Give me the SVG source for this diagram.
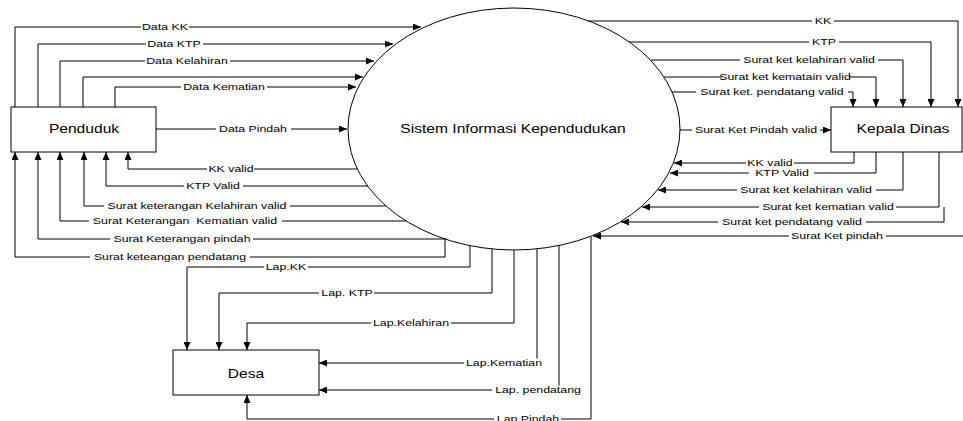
<svg xmlns="http://www.w3.org/2000/svg" width="963" height="421" viewBox="0 0 963 421">
  <style>
    .node{fill:#fff;stroke:#000;stroke-width:1}
    .flow{fill:none;stroke:#000;stroke-width:1;marker-end:url(#arrow)}
    .plain{fill:none;stroke:#000;stroke-width:1}
    .bg{fill:#fff}
    text{font-family:"Liberation Sans",Arial,sans-serif;fill:#000;text-anchor:middle;transform-box:fill-box;transform-origin:center;transform:scaleX(1.3)}
    .title{font-size:12px}
    .lbl{font-size:9.5px}
  </style>
  <defs>
    <marker id="arrow" viewBox="0 0 8 7" refX="8" refY="3.5" markerWidth="8" markerHeight="7" markerUnits="userSpaceOnUse" orient="auto">
      <path d="M0,0 L8,3.5 L0,7 z" fill="#000"/>
    </marker>
  </defs>

  <!-- External entities and the process -->
  <g id="penduduk">
    <rect class="node" x="11" y="107" width="145" height="45"/>
    <text class="title" x="84" y="133">Penduduk</text>
  </g>
  <g id="sistem-informasi-kependudukan">
    <ellipse class="node" cx="514" cy="129" rx="166" ry="121"/>
    <text class="title" x="513" y="133">Sistem Informasi Kependudukan</text>
  </g>
  <g id="kepala-dinas">
    <rect class="node" x="831" y="107" width="131" height="45"/>
    <text class="title" x="903" y="133">Kepala Dinas</text>
  </g>
  <g id="desa">
    <rect class="node" x="173" y="350" width="146" height="45"/>
    <text class="title" x="246" y="378">Desa</text>
  </g>

  <!-- Data flows -->
  <g id="connectors">
    <!-- Penduduk -> Sistem -->
    <path class="flow" d="M15,107 V27 H421"/>
    <path class="flow" d="M38,107 V44 H393"/>
    <path class="flow" d="M60,107 V61 H374"/>
    <path class="flow" d="M83,107 V77 H363"/>
    <path class="flow" d="M115,107 V87 H356"/>
    <path class="flow" d="M156,129 H347"/>
    <!-- Sistem -> Penduduk -->
    <path class="flow" d="M357,169 H128 V152"/>
    <path class="flow" d="M368,186 H106 V152"/>
    <path class="flow" d="M386,206 H84 V152"/>
    <path class="flow" d="M406,221 H60 V152"/>
    <path class="flow" d="M446,239 H38 V152"/>
    <path class="flow" d="M445,239 V257 H15 V152"/>
    <!-- Sistem -> Desa -->
    <path class="flow" d="M470,246 V267 H187 V350"/>
    <path class="flow" d="M492,249 V293 H219 V350"/>
    <path class="flow" d="M514,250 V323 H247 V350"/>
    <path class="flow" d="M537,249 V363 H319"/>
    <path class="flow" d="M559,245 V390 H319"/>
    <path class="flow" d="M591,237 V419 H247 V395"/>
    <!-- Sistem -> Kepala Dinas -->
    <path class="flow" d="M588,21 H958 V107"/>
    <path class="flow" d="M629,42 H931 V107"/>
    <path class="flow" d="M651,60 H903 V107"/>
    <path class="flow" d="M664,77 H876 V107"/>
    <path class="flow" d="M672,92 H853 V107"/>
    <path class="flow" d="M680,130 H831"/>
    <!-- Kepala Dinas -> Sistem -->
    <path class="flow" d="M854,152 V163 H674"/>
    <path class="flow" d="M876,152 V173 H670"/>
    <path class="flow" d="M903,152 V190 H658"/>
    <path class="flow" d="M939,152 V207 H642"/>
    <path class="flow" d="M944,207 V222 H621"/>
    <path class="flow" d="M963,236 H593"/>
  </g>

  <!-- Flow labels, each on a white patch over its line -->
  <g id="flow-labels">
    <rect class="bg" x="141" y="22.5" width="48" height="9"/><text class="lbl" x="165" y="30.4">Data KK</text>
    <rect class="bg" x="146" y="39.5" width="57" height="9"/><text class="lbl" x="174" y="47.4">Data KTP</text>
    <rect class="bg" x="145" y="56.5" width="85" height="9"/><text class="lbl" x="187" y="64.4">Data Kelahiran</text>
    <rect class="bg" x="181" y="82.5" width="86" height="9"/><text class="lbl" x="224" y="90.4">Data Kematian</text>
    <rect class="bg" x="216" y="124.5" width="75" height="9"/><text class="lbl" x="253" y="132.4">Data Pindah</text>

    <rect class="bg" x="207" y="164.5" width="47" height="9"/><text class="lbl" x="231" y="172.4">KK valid</text>
    <rect class="bg" x="184" y="181.5" width="59" height="9"/><text class="lbl" x="213" y="189.4">KTP Valid</text>
    <rect class="bg" x="104" y="201.5" width="186" height="9"/><text class="lbl" x="197" y="209.4">Surat keterangan Kelahiran valid</text>
    <rect class="bg" x="89" y="216.5" width="193" height="9"/><text class="lbl" x="185" y="224.4" xml:space="preserve">Surat Keterangan  Kematian valid</text>
    <rect class="bg" x="110" y="234.5" width="143" height="9"/><text class="lbl" x="182" y="242.4">Surat Keterangan pindah</text>
    <rect class="bg" x="90" y="252.5" width="160" height="9"/><text class="lbl" x="170" y="260.4">Surat keteangan pendatang</text>

    <rect class="bg" x="264" y="262.5" width="44" height="9"/><text class="lbl" x="286" y="270.4">Lap.KK</text>
    <rect class="bg" x="319" y="288.5" width="55" height="9"/><text class="lbl" x="347" y="296.4">Lap. KTP</text>
    <rect class="bg" x="371" y="318.5" width="80" height="9"/><text class="lbl" x="411" y="326.4">Lap.Kelahiran</text>
    <rect class="bg" x="464" y="358.5" width="80" height="9"/><text class="lbl" x="504" y="366.4">Lap.Kematian</text>
    <rect class="bg" x="492" y="385.5" width="91" height="9"/><text class="lbl" x="538" y="393.4">Lap. pendatang</text>
    <rect class="bg" x="494" y="414.5" width="67" height="9"/><text class="lbl" x="528" y="422.4">Lap.Pindah</text>

    <rect class="bg" x="812" y="16.5" width="22" height="9"/><text class="lbl" x="823" y="24.4">KK</text>
    <rect class="bg" x="809" y="37.5" width="30" height="9"/><text class="lbl" x="824" y="45.4">KTP</text>
    <rect class="bg" x="740" y="55.5" width="138" height="9"/><text class="lbl" x="809" y="63.4">Surat ket kelahiran valid</text>
    <rect class="bg" x="721" y="72.5" width="128" height="9"/><text class="lbl" x="785" y="80.4">Surat ket kematain valid</text>
    <rect class="bg" x="696" y="87.5" width="152" height="9"/><text class="lbl" x="772" y="95.4">Surat ket. pendatang valid</text>
    <rect class="bg" x="692" y="125.5" width="128" height="9"/><text class="lbl" x="756" y="133.4">Surat Ket Pindah valid</text>

    <rect class="bg" x="746" y="158.5" width="48" height="9"/><text class="lbl" x="770" y="166.4">KK valid</text>
    <rect class="bg" x="749" y="168.5" width="65" height="9"/><text class="lbl" x="782" y="176.4">KTP Valid</text>
    <rect class="bg" x="737" y="185.5" width="139" height="9"/><text class="lbl" x="806" y="193.4">Surat ket kelahiran valid</text>
    <rect class="bg" x="759" y="202.5" width="137" height="9"/><text class="lbl" x="828" y="210.4">Surat ket kematian valid</text>
    <rect class="bg" x="718" y="217.5" width="148" height="9"/><text class="lbl" x="792" y="225.4">Surat ket pendatang valid</text>
    <rect class="bg" x="789" y="231.5" width="97" height="9"/><text class="lbl" x="837" y="239.4">Surat Ket pindah</text>
  </g>
</svg>
